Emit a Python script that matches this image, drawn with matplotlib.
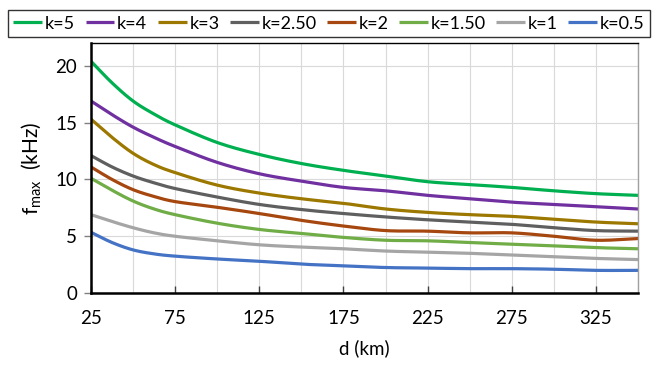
import matplotlib
matplotlib.use("Agg")
import matplotlib.pyplot as plt
import numpy as np

# distances (km) and f_max (kHz) for each k
d = [25, 37.5, 50, 62.5, 75, 100, 125, 150, 175, 200, 225, 250, 275, 300, 325, 350]
series = {
    "k=5":    [20.4, 18.5, 16.9, 15.75, 14.8, 13.25, 12.2, 11.4, 10.8, 10.3, 9.8, 9.55, 9.3, 9.0, 8.75, 8.6],
    "k=4":    [16.9, 15.7, 14.6, 13.7, 12.9, 11.5, 10.5, 9.85, 9.3, 9.0, 8.6, 8.3, 8.0, 7.8, 7.6, 7.4],
    "k=3":    [15.3, 13.7, 12.3, 11.3, 10.6, 9.5, 8.8, 8.3, 7.9, 7.4, 7.1, 6.9, 6.75, 6.5, 6.25, 6.1],
    "k=2.50": [12.1, 11.1, 10.3, 9.7, 9.2, 8.45, 7.8, 7.35, 7.0, 6.7, 6.45, 6.25, 6.05, 5.75, 5.5, 5.45],
    "k=2":    [11.1, 10.0, 9.1, 8.5, 8.05, 7.55, 7.0, 6.4, 5.9, 5.5, 5.45, 5.3, 5.3, 5.0, 4.65, 4.8],
    "k=1.50": [10.1, 9.05, 8.1, 7.4, 6.9, 6.15, 5.6, 5.25, 4.9, 4.65, 4.6, 4.45, 4.3, 4.15, 4.0, 3.9],
    "k=1":    [6.9, 6.3, 5.75, 5.3, 5.0, 4.6, 4.25, 4.05, 3.9, 3.7, 3.6, 3.5, 3.35, 3.2, 3.05, 2.95],
    "k=0.5":  [5.35, 4.45, 3.8, 3.45, 3.25, 3.0, 2.8, 2.55, 2.4, 2.25, 2.2, 2.15, 2.15, 2.1, 2.0, 2.0],
}
colors = ["#00b050", "#7030a0", "#9c7800", "#5f5f5f", "#a5470f", "#70ad47", "#a5a5a5", "#4472c4"]


def smooth(x, y, n=20):
    # Catmull-Rom style smoothing, like Excel's "smoothed line"
    x = np.asarray(x, float)
    y = np.asarray(y, float)
    px = np.concatenate([[2 * x[0] - x[1]], x, [2 * x[-1] - x[-2]]])
    py = np.concatenate([[2 * y[0] - y[1]], y, [2 * y[-1] - y[-2]]])
    xs, ys = [], []
    t = np.linspace(0, 1, n, endpoint=False)
    for i in range(1, len(px) - 2):
        for p, out in ((px, xs), (py, ys)):
            p0, p1, p2, p3 = p[i - 1], p[i], p[i + 1], p[i + 2]
            out.extend(0.5 * (2 * p1 + (-p0 + p2) * t
                              + (2 * p0 - 5 * p1 + 4 * p2 - p3) * t ** 2
                              + (-p0 + 3 * p1 - 3 * p2 + p3) * t ** 3))
    xs.append(x[-1])
    ys.append(y[-1])
    return np.array(xs), np.array(ys)


plt.rcParams["font.family"] = ["Lato", "DejaVu Sans"]
plt.rcParams["mathtext.fontset"] = "custom"
plt.rcParams["mathtext.rm"] = "Lato"

fig = plt.figure(figsize=(6.56, 3.65), dpi=100)
ax = fig.add_axes([0.1387, 0.197, 0.834, 0.685])

for (name, vals), c in zip(series.items(), colors):
    sx, sy = smooth(d, vals)
    ax.plot(sx, sy, color=c, lw=2.3, label=name, solid_capstyle="butt")

ax.set_xlim(25, 350)
ax.set_ylim(0, 22)
ax.set_xticks(np.arange(25, 350, 50))
ax.set_xticks(np.arange(25, 351, 25), minor=True)
ax.set_yticks([0, 5, 10, 15, 20])
ax.grid(True, which="both", axis="x", color="#d9d9d9", lw=0.8)
ax.grid(True, which="major", axis="y", color="#d9d9d9", lw=0.8)
ax.set_axisbelow(True)

ax.tick_params(axis="x", which="major", direction="in", length=5, width=1,
               color="#404040", labelsize=13.5, pad=12)
ax.tick_params(axis="x", which="minor", length=0)
ax.tick_params(axis="y", direction="out", length=5, width=1,
               color="#808080", labelsize=13.5, pad=5)

for side in ("left", "bottom"):
    ax.spines[side].set_linewidth(1.8)
    ax.spines[side].set_color("black")
ax.spines["top"].set_linewidth(1.0)
ax.spines["top"].set_color("black")
ax.spines["right"].set_linewidth(1.0)
ax.spines["right"].set_color("#a0a0a0")

ax.set_xlabel("d (km)", fontsize=13.5, labelpad=9)
ax.set_ylabel(r"f$_{\mathregular{max}}$  (kHz)", fontsize=15, labelpad=8)

leg = fig.legend(loc="lower left", bbox_to_anchor=(8 / 656, 1 - 37 / 365, 642 / 656, 32 / 365),
                 mode="expand", ncol=8, fontsize=13, frameon=True, fancybox=False,
                 handlelength=1.6, handletextpad=0.15, columnspacing=0.5,
                 borderpad=0.3, borderaxespad=0)
leg.get_frame().set_edgecolor("black")
leg.get_frame().set_linewidth(1.0)

fig.savefig("out.png", dpi=100)
